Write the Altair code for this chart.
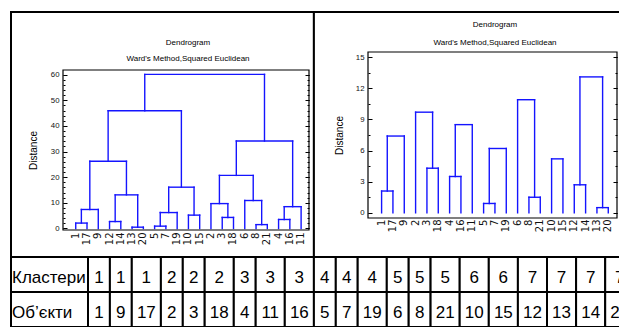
import altair as alt
import pandas as pd

# ---------------- data ----------------
# Ward merges: (left member, right member, height); "mK" = result of merge K (1-based)
merge_left = ["1", "m1", "12", "13", "m3", "m2", "5", "m7", "10", "m8",
              "m6", "3", "2", "8", "6", "m13", "4", "m17", "m16", "m11"]
merge_right = ["17", "9", "14", "20", "m4", "m5", "7", "19", "15", "m9",
               "m10", "18", "m12", "21", "m14", "m15", "16", "11", "m18", "m19"]
merge_height = [2.1, 7.4, 2.7, 0.5, 13.1, 26.2, 0.9, 6.2, 5.2, 16.1,
                45.9, 4.3, 9.7, 1.5, 10.9, 20.7, 3.5, 8.5, 34.1, 60.1]

leaves_full = ["1", "17", "9", "12", "14", "13", "20", "5", "7", "19", "10",
               "15", "2", "3", "18", "6", "8", "21", "4", "16", "11"]
leaves_cut = ["1", "17", "9", "2", "3", "18", "4", "16", "11", "5", "7",
              "19", "6", "8", "21", "10", "15", "12", "14", "13", "20"]
cut_level = 15

clusters = [1, 1, 1, 2, 2, 2, 3, 3, 3, 4, 4, 4, 5, 5, 5, 6, 6, 7, 7, 7, 7]
objects = [1, 9, 17, 2, 3, 18, 4, 11, 16, 5, 7, 19, 6, 8, 21, 10, 15, 12, 13, 14, 20]
row_labels = ["Кластери", "Об’єкти"]

ticks_full = [0, 10, 20, 30, 40, 50, 60]
minor_full = [2 * i for i in range(31)]
ticks_cut = [0, 3, 6, 9, 12, 15]
minor_cut = [1.5 * i for i in range(11)]

chart_title = "Dendrogram"
chart_subtitle = "Ward's Method,Squared Euclidean"
axis_title = "Distance"

# ---------------- layout / style ----------------
FONT = "Liberation Sans"
LEAF_FONT = "DejaVu Sans"
BLUE = "#1414ff"
W, H = 611, 319
ONE = pd.DataFrame({"k": [0]})


def dendro_segments(order, cut):
    pos = {leaf: float(i) for i, leaf in enumerate(order)}
    hgt = {leaf: 0.0 for leaf in order}
    rows = []
    for i, (a, b, h) in enumerate(zip(merge_left, merge_right, merge_height)):
        if h > cut or a not in pos or b not in pos:
            continue
        xa, xb = pos[a], pos[b]
        rows.append({"x": xa, "x2": xa, "y": hgt[a], "y2": h})
        rows.append({"x": xb, "x2": xb, "y": hgt[b], "y2": h})
        rows.append({"x": xa, "x2": xb, "y": h, "y2": h})
        pos[f"m{i + 1}"] = (xa + xb) / 2
        hgt[f"m{i + 1}"] = h
    return pd.DataFrame(rows)


def dendrogram(order, cut, xdom, xr, ydom, yr, major, minor, title_x, label_gap):
    xs = alt.Scale(domain=xdom, range=xr, nice=False, zero=False)
    ys = alt.Scale(domain=ydom, range=yr, nice=False, zero=False)
    seg = dendro_segments(order, cut)
    left, right, bottom = xr[0], xr[1], yr[0]

    lines = alt.Chart(seg).mark_rule(color=BLUE, strokeWidth=1.4, strokeCap="square").encode(
        x=alt.X("x:Q", scale=xs, axis=None),
        x2="x2:Q",
        y=alt.Y("y:Q", scale=ys, axis=alt.Axis(
            orient="left", offset=-left, values=major, ticks=False, tickSize=0,
            domain=False, grid=False, labelFontSize=7.8, labelFont=FONT,
            labelColor="#111111", labelPadding=4, labelFlush=False, labelOverlap=False,
            title=axis_title, titleFont=FONT, titleFontSize=10, titleFontWeight="normal",
            titleColor="black", titleAngle=270, titleBaseline="middle",
            titleAlign="center", titleX=title_x, zindex=2)),
        y2="y2:Q",
    )

    leaf_df = pd.DataFrame({"i": list(range(len(order))), "label": order})
    leaf_labels = alt.Chart(leaf_df).mark_text(
        font=LEAF_FONT, fontSize=10, color="#111111", angle=270, align="right",
        baseline="middle").encode(
        x=alt.X("i:Q", scale=xs, axis=None),
        y=alt.value(bottom + label_gap),
        text="label:N",
    )

    frame = alt.Chart(ONE).mark_rect(fillOpacity=0, stroke="black", strokeWidth=1.2).encode(
        x=alt.XDatum(xdom[0], type="quantitative", scale=xs, axis=None),
        x2=alt.X2Datum(xdom[1]),
        y=alt.YDatum(ydom[0], type="quantitative", scale=ys, axis=None),
        y2=alt.Y2Datum(ydom[1]),
    )

    def tick_axis(values, orient, offset, size):
        return alt.Chart(pd.DataFrame({"v": values})).mark_rule(opacity=0).encode(
            y=alt.Y("v:Q", scale=ys, axis=alt.Axis(
                orient=orient, offset=offset, values=values, labels=False,
                domain=False, grid=False, ticks=True, tickSize=size,
                tickColor="black", tickWidth=1, title=None, zindex=2)))

    layers = [
        lines, frame, leaf_labels,
        tick_axis(major, "right", left - W, 4),
        tick_axis(minor, "right", left - W, 2),
        tick_axis(major, "left", -right, 4),
        tick_axis(minor, "left", -right, 2),
    ]
    return alt.layer(*layers).resolve_axis(y="independent")


left_group = dendrogram(leaves_full, max(merge_height), [-1.13, 20.7], [55, 301],
                        [-0.6, 61.8], [222, 62], ticks_full, minor_full, -30, 2.5)
right_group = dendrogram(leaves_cut, cut_level, [-1.2, 20.77], [360, 609],
                         [-0.5, 15.5], [210, 44], ticks_cut, minor_cut, -29, 1.5)

# ---------------- table ----------------
TABLE_TOP, ROW_H, HEAD_W, LEFT, TOP = 249, 35, 77, 3, 4


def cell_width(label):
    return 14.7 + 7.2 * len(label)


edges = [LEFT + HEAD_W]
for o in objects:
    edges.append(edges[-1] + cell_width(str(o)))
divider = edges[clusters.index(4)]

cells, heads = [], []
for r, values in enumerate([clusters, objects]):
    y0 = TABLE_TOP + r * ROW_H
    heads.append({"x0": LEFT, "x1": edges[0], "y0": y0, "y1": y0 + ROW_H,
                  "label": row_labels[r]})
    for j, v in enumerate(values):
        cells.append({"x0": edges[j], "x1": edges[j + 1], "y0": y0, "y1": y0 + ROW_H,
                      "label": str(v)})
tops = [{"x0": LEFT, "x1": divider, "y0": TOP, "y1": TABLE_TOP, "label": ""},
        {"x0": divider, "x1": W + 40, "y0": TOP, "y1": TABLE_TOP, "label": ""}]

cell_df = pd.DataFrame(tops + heads + cells)
head_df = pd.DataFrame(heads)
head_df["xl"] = head_df["x0"] + 1
head_df["yc"] = (head_df["y0"] + head_df["y1"]) / 2 + 3
num_df = pd.DataFrame(cells)
num_df["xc"] = (num_df["x0"] + num_df["x1"]) / 2
num_df["yc"] = (num_df["y0"] + num_df["y1"]) / 2 + 3

rects = alt.Chart(cell_df).mark_rect(fill="white", stroke="black", strokeWidth=2).encode(
    x=alt.X("x0:Q", scale=None, axis=None), x2="x1:Q",
    y=alt.Y("y0:Q", scale=None, axis=None), y2="y1:Q")
num_text = alt.Chart(num_df).mark_text(font=FONT, fontSize=17, align="center",
                                       baseline="middle", color="black").encode(
    x=alt.X("xc:Q", scale=None, axis=None), y=alt.Y("yc:Q", scale=None, axis=None),
    text="label:N")
head_text = alt.Chart(head_df).mark_text(font=FONT, fontSize=17, align="left",
                                         baseline="middle", color="black").encode(
    x=alt.X("xl:Q", scale=None, axis=None), y=alt.Y("yc:Q", scale=None, axis=None),
    text="label:N")
table = alt.layer(rects, num_text, head_text)


def title_text(text, x, y):
    return alt.Chart(ONE).mark_text(text=text, font=FONT, fontSize=8, color="black",
                                    align="center", baseline="middle").encode(
        x=alt.value(x), y=alt.value(y))


titles = [
    title_text(chart_title, 180, 34.7), title_text(chart_subtitle, 180, 51.3),
    title_text(chart_title, 487, 17), title_text(chart_subtitle, 487, 34.7),
]

chart = alt.layer(table, left_group, right_group, *titles).resolve_scale(
    x="independent", y="independent"
).properties(
    width=W, height=H, autosize=alt.AutoSizeParams(type="none"), padding=0
).configure_view(stroke=None)

chart.save("out.html", embed_options={"renderer": "svg", "actions": False})
